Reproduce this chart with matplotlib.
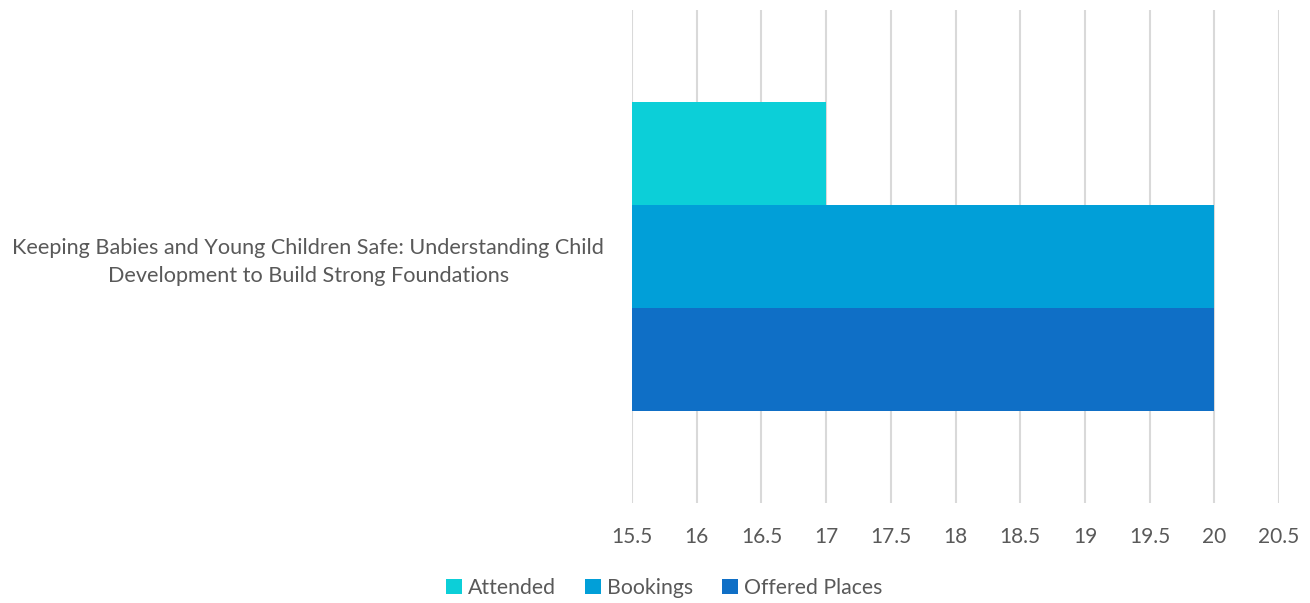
import matplotlib.pyplot as plt
import numpy as np

plt.rcParams['font.family'] = ['Lato', 'DejaVu Sans']

category = "Keeping Babies and Young Children Safe: Understanding Child\nDevelopment to Build Strong Foundations"
series = ["Attended", "Bookings", "Offered Places"]
values = [17, 20, 20]
colors = ["#0ccfd8", "#019fd8", "#0f6fc6"]
xticks = [15.5, 16, 16.5, 17, 17.5, 18, 18.5, 19, 19.5, 20, 20.5]

fig = plt.figure(figsize=(13.1, 6.03), dpi=100)
ax = fig.add_axes([632 / 1310, 1 - 503 / 603, (1279 - 632) / 1310, 493 / 603])

h = 0.625 / 3
offsets = [h, 0, -h]
for name, v, c, off in zip(series, values, colors, offsets):
    ax.barh(off, v - 15.5, left=15.5, height=h, color=c, label=name, zorder=3)

ax.set_xlim(15.5, 20.5)
ax.set_ylim(-0.5, 0.5)
ax.set_xticks(xticks)
ax.set_xticklabels([f"{t:g}" for t in xticks], fontsize=15, color="#595959")
ax.set_yticks([0])
ax.set_yticklabels([category], fontsize=15.6, color="#595959", ha="center",
                   multialignment="center", linespacing=1.45)
ax.tick_params(axis="y", length=0, pad=233)
ax.tick_params(axis="x", length=0, pad=17)
ax.grid(axis="x", color="#d9d9d9", linewidth=1.5, zorder=0)
for s in ax.spines.values():
    s.set_visible(False)

fig.legend(loc="center", bbox_to_anchor=(0.507, 1 - 588 / 603), ncol=3, frameon=False,
           fontsize=15.3, handlelength=0.75, handleheight=0.75, handletextpad=0.3,
           columnspacing=1.35, labelcolor="#595959")

fig.savefig("out.png", dpi=100)
